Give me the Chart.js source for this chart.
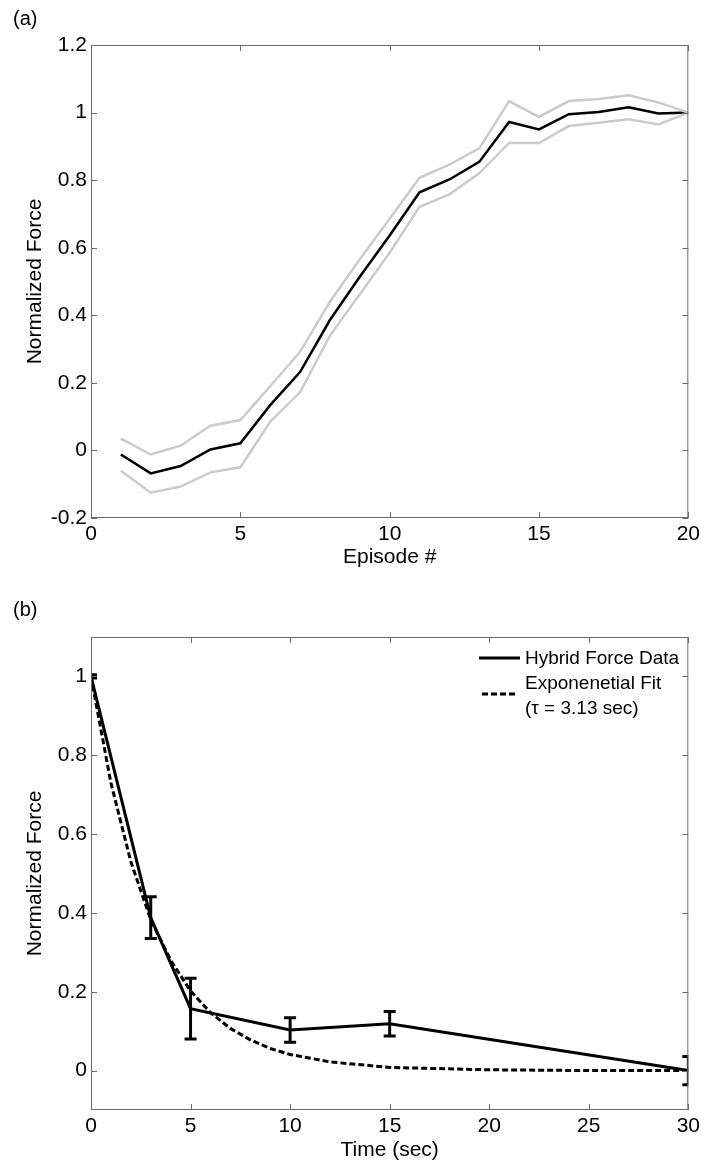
<!DOCTYPE html>
<html>
<head>
<meta charset="utf-8">
<script src="https://cdn.jsdelivr.net/npm/chart.js@4.4.1/dist/chart.umd.min.js"></script>
<style>
  body { margin: 0; background: #fff; font-family: 'Liberation Sans', Arial, sans-serif; }
  #wrap { position: relative; width: 704px; height: 1162px; overflow: hidden; }
  canvas { position: absolute; left: 0; }
  .lbl { position: absolute; font-size: 20px; line-height: 24px; color: #000; white-space: nowrap; }
  .leg { position: absolute; font-size: 19px; line-height: 25px; color: #000; white-space: nowrap; }
</style>
</head>
<body>
<div id="wrap">
  <canvas id="chartA" width="704" height="580" style="top:0"></canvas>
  <canvas id="chartB" width="704" height="584" style="top:580px"></canvas>
  <div class="lbl" style="left:13px;top:6px">(a)</div>
  <div class="lbl" style="left:13px;top:597px">(b)</div>
  <svg style="position:absolute;left:0;top:0" width="704" height="1162">
    <line x1="479" y1="658" x2="520" y2="658" stroke="#000" stroke-width="3"/>
    <line x1="482" y1="694" x2="518" y2="694" stroke="#000" stroke-width="3" stroke-dasharray="6 3"/>
  </svg>
  <div class="leg" style="left:525px;top:645px">Hybrid Force Data</div>
  <div class="leg" style="left:525px;top:670px">Exponenetial Fit</div>
  <div class="leg" style="left:525px;top:695px">(τ = 3.13 sec)</div>
</div>
<script>
// (a) normalized force per episode, mean with upper/lower band
const episodes = [1, 2, 3, 4, 5, 6, 7, 8, 9, 10, 11, 12, 13, 14, 15, 16, 17, 18, 19, 20];
const forceMean = [-0.012, -0.068, -0.046, 0.003, 0.021, 0.134, 0.232, 0.386, 0.514, 0.636,
                   0.764, 0.802, 0.854, 0.972, 0.950, 0.995, 1.002, 1.016, 0.997, 1.000];
const forceUpper = [0.035, -0.012, 0.014, 0.073, 0.090, 0.190, 0.292, 0.440, 0.566, 0.686,
                    0.807, 0.846, 0.894, 1.034, 0.987, 1.034, 1.040, 1.051, 1.030, 1.000];
const forceLower = [-0.060, -0.125, -0.107, -0.065, -0.050, 0.085, 0.172, 0.340, 0.462, 0.585,
                    0.721, 0.758, 0.820, 0.910, 0.910, 0.960, 0.970, 0.980, 0.965, 1.000];
const episodeTicks = [0, 5, 10, 15, 20];
const forceTicksA = [-0.2, 0, 0.2, 0.4, 0.6, 0.8, 1, 1.2];

// (b) decay over time, with error bars and the exponential fit
const timeSec = [0, 3, 5, 10, 15, 30];
const hybridForce = [1.0, 0.388, 0.157, 0.103, 0.119, 0.0];
const hybridErr = [0.004, 0.053, 0.077, 0.031, 0.031, 0.036];
const fitTime = [0, 1, 2, 3, 4, 5, 6, 7, 8, 9, 10, 12, 15, 20, 25, 30];
const fitForce = [1.0, 0.73, 0.53, 0.383, 0.28, 0.202, 0.147, 0.107, 0.078, 0.056, 0.041,
                  0.022, 0.008, 0.002, 0.0, 0.0];
const timeTicks = [0, 5, 10, 15, 20, 25, 30];
const forceTicksB = [0, 0.2, 0.4, 0.6, 0.8, 1];

const FONT = { family: "'Liberation Sans', Arial, sans-serif", size: 21 };
const fmt = v => String(Number(v.toFixed(2)));
const pts = (xs, ys) => xs.map((x, i) => ({ x: x, y: ys[i] }));

// matlab style box with inward ticks on all four sides
const boxTicks = {
  id: 'boxTicks',
  afterDraw(chart) {
    const { ctx, chartArea: a, scales: { x, y } } = chart;
    const len = 6;
    ctx.save();
    ctx.strokeStyle = '#6b6b6b';
    ctx.lineWidth = 1;
    ctx.strokeRect(a.left + 0.5, a.top + 0.5, a.width - 1, a.height - 1);
    ctx.beginPath();
    x.ticks.forEach(t => {
      const px = Math.round(x.getPixelForValue(t.value)) + 0.5;
      ctx.moveTo(px, a.bottom); ctx.lineTo(px, a.bottom - len);
      ctx.moveTo(px, a.top); ctx.lineTo(px, a.top + len);
    });
    y.ticks.forEach(t => {
      const py = Math.round(y.getPixelForValue(t.value)) + 0.5;
      ctx.moveTo(a.left, py); ctx.lineTo(a.left + len, py);
      ctx.moveTo(a.right, py); ctx.lineTo(a.right - len, py);
    });
    ctx.stroke();
    ctx.restore();
  }
};

const errorBars = {
  id: 'errorBars',
  afterDatasetsDraw(chart) {
    const { ctx, chartArea: a, scales: { x, y } } = chart;
    ctx.save();
    ctx.beginPath();
    ctx.rect(a.left, a.top, a.width, a.height);
    ctx.clip();
    ctx.strokeStyle = '#000';
    ctx.lineWidth = 3;
    timeSec.forEach((t, i) => {
      const px = x.getPixelForValue(t);
      const top = y.getPixelForValue(hybridForce[i] + hybridErr[i]);
      const bot = y.getPixelForValue(hybridForce[i] - hybridErr[i]);
      ctx.beginPath();
      ctx.moveTo(px, top); ctx.lineTo(px, bot);
      ctx.moveTo(px - 6, top); ctx.lineTo(px + 6, top);
      ctx.moveTo(px - 6, bot); ctx.lineTo(px + 6, bot);
      ctx.stroke();
    });
    ctx.restore();
  }
};

function makeScales(o) {
  return {
    x: {
      type: 'linear', min: o.xMin, max: o.xMax,
      afterBuildTicks: s => { s.ticks = o.xTicks.map(v => ({ value: v })); },
      afterFit: s => { s.height = o.xHeight; },
      grid: { display: false, drawTicks: false }, border: { display: false },
      ticks: { color: '#000', font: FONT, padding: 4, maxRotation: 0, autoSkip: false, callback: fmt },
      title: { display: true, text: o.xTitle, color: '#000', font: FONT, padding: { top: 0, bottom: o.xTitlePad } }
    },
    y: {
      type: 'linear', min: o.yMin, max: o.yMax,
      afterBuildTicks: s => { s.ticks = o.yTicks.map(v => ({ value: v })); },
      afterFit: s => { s.width = 91; },
      grid: { display: false, drawTicks: false }, border: { display: false },
      ticks: { color: '#000', font: FONT, padding: 4, autoSkip: false, callback: fmt },
      title: { display: true, text: 'Normalized Force', color: '#000', font: FONT, padding: { top: 23, bottom: 0 } }
    }
  };
}

const common = {
  responsive: false, animation: false, devicePixelRatio: 1,
  elements: { point: { radius: 0 }, line: { tension: 0 } },
  plugins: { legend: { display: false }, tooltip: { enabled: false } }
};

new Chart(document.getElementById('chartA'), {
  type: 'line',
  data: {
    datasets: [
      { data: pts(episodes, forceUpper), borderColor: '#cbcbcb', borderWidth: 2.5 },
      { data: pts(episodes, forceLower), borderColor: '#cbcbcb', borderWidth: 2.5 },
      { data: pts(episodes, forceMean), borderColor: '#000', borderWidth: 2.5 }
    ]
  },
  options: Object.assign({}, common, {
    layout: { padding: { top: 45, right: 13, left: 0, bottom: 0 } },
    scales: makeScales({ xMin: 0, xMax: 20, xTicks: episodeTicks, xHeight: 62, xTitle: 'Episode #', xTitlePad: 10,
                         yMin: -0.2, yMax: 1.2, yTicks: forceTicksA })
  }),
  plugins: [boxTicks]
});

new Chart(document.getElementById('chartB'), {
  type: 'line',
  data: {
    datasets: [
      { data: pts(fitTime, fitForce), borderColor: '#000', borderWidth: 3, borderDash: [6, 3] },
      { data: pts(timeSec, hybridForce), borderColor: '#000', borderWidth: 3 }
    ]
  },
  options: Object.assign({}, common, {
    layout: { padding: { top: 57, right: 13, left: 0, bottom: 0 } },
    scales: makeScales({ xMin: 0, xMax: 30, xTicks: timeTicks, xHeight: 54, xTitle: 'Time (sec)', xTitlePad: 1,
                         yMin: -0.1, yMax: 1.1, yTicks: forceTicksB })
  }),
  plugins: [errorBars, boxTicks]
});
</script>
</body>
</html>
